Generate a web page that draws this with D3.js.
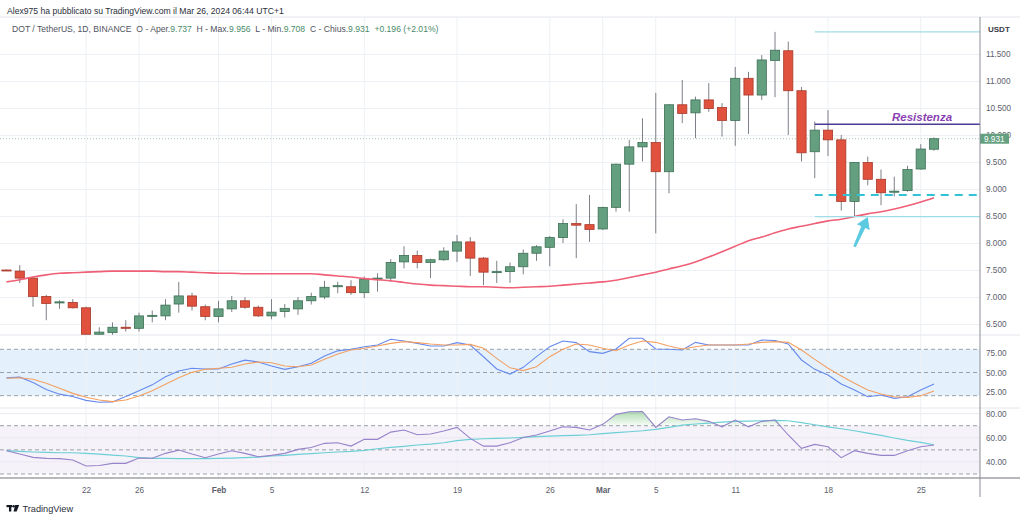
<!DOCTYPE html>
<html>
<head>
<meta charset="utf-8">
<script src="https://cdn.jsdelivr.net/npm/d3@7"></script>
<style>
  body { margin: 0; background: #fff; }
  svg { display: block; font-family: "Liberation Sans", Arial, sans-serif; }
</style>
</head>
<body>
<svg id="chart" width="1024" height="520"></svg>
<script>
// daily candles DOT/USDT, Jan 16 -> Mar 26 2024
const firstDay = Date.UTC(2024, 0, 16);
const lastDay = Date.UTC(2024, 2, 26);

const opens = [7.50, 7.48, 7.35, 7.01, 6.89, 6.90, 6.80, 6.31, 6.34, 6.44,
  6.42, 6.65, 6.65, 6.87, 7.02, 6.82, 6.64, 6.78, 6.93, 6.81,
  6.65, 6.73, 6.78, 6.93, 7.00, 7.19, 7.19, 7.08, 7.33, 7.35,
  7.65, 7.77, 7.64, 7.69, 7.85, 8.02, 7.72, 7.46, 7.47, 7.56,
  7.81, 7.92, 8.10, 8.36, 8.34, 8.26, 8.66, 9.46, 9.78, 9.86,
  9.32, 10.56, 10.41, 10.65, 10.51, 10.27, 11.05, 10.74, 11.38, 11.56,
  10.82, 9.69, 10.09, 9.91, 8.77, 9.49, 9.18, 8.94, 8.97, 9.37,
  9.737];
const highs = [7.51, 7.59, 7.38, 7.04, 6.94, 6.96, 6.82, 6.44, 6.53, 6.57,
  6.71, 6.75, 6.96, 7.28, 7.08, 6.86, 6.93, 7.02, 7.00, 6.84,
  6.96, 6.87, 7.00, 7.08, 7.30, 7.28, 7.31, 7.38, 7.44, 7.70,
  7.94, 7.86, 7.71, 7.92, 8.15, 8.11, 7.74, 7.67, 7.64, 7.88,
  7.96, 8.13, 8.44, 8.72, 8.89, 8.67, 9.47, 9.91, 10.31, 10.78,
  10.57, 11.02, 10.71, 10.96, 10.59, 11.26, 11.17, 11.48, 11.91, 11.73,
  10.89, 10.25, 10.46, 10.00, 9.50, 9.60, 9.36, 9.23, 9.43, 9.83,
  9.956];
const lows = [7.49, 7.26, 6.82, 6.57, 6.78, 6.79, 6.30, 6.30, 6.30, 6.36,
  6.36, 6.53, 6.57, 6.71, 6.75, 6.57, 6.53, 6.72, 6.78, 6.63,
  6.59, 6.62, 6.67, 6.86, 6.96, 7.07, 7.04, 6.98, 7.10, 7.28,
  7.53, 7.53, 7.35, 7.67, 7.65, 7.39, 7.22, 7.26, 7.26, 7.42,
  7.67, 7.57, 8.00, 7.72, 8.02, 8.24, 8.58, 8.58, 9.51, 8.18,
  8.92, 10.22, 9.94, 10.43, 9.97, 9.80, 10.02, 10.65, 10.70, 10.00,
  9.51, 9.20, 9.61, 8.60, 8.49, 9.07, 8.70, 8.86, 8.95, 9.36,
  9.708];
const closes = [7.49, 7.35, 7.01, 6.88, 6.91, 6.80, 6.31, 6.35, 6.44, 6.42,
  6.65, 6.66, 6.85, 7.02, 6.83, 6.64, 6.78, 6.93, 6.81, 6.65,
  6.72, 6.79, 6.93, 7.01, 7.18, 7.21, 7.08, 7.33, 7.35, 7.64,
  7.77, 7.64, 7.69, 7.85, 8.02, 7.72, 7.46, 7.47, 7.56, 7.81,
  7.93, 8.10, 8.36, 8.33, 8.25, 8.66, 9.46, 9.78, 9.86, 9.32,
  10.56, 10.40, 10.65, 10.49, 10.27, 11.05, 10.74, 11.39, 11.57, 10.82,
  9.67, 10.09, 9.91, 8.77, 9.49, 9.18, 8.93, 8.96, 9.36, 9.74,
  9.931];

// moving average on price
const maValues = [7.28, 7.32, 7.37, 7.41, 7.44, 7.45, 7.46, 7.47, 7.48, 7.48,
  7.48, 7.48, 7.47, 7.47, 7.46, 7.45, 7.44, 7.44, 7.43, 7.43,
  7.43, 7.43, 7.43, 7.43, 7.41, 7.39, 7.37, 7.34, 7.32, 7.30,
  7.27, 7.24, 7.22, 7.21, 7.20, 7.19, 7.19, 7.18, 7.17, 7.18,
  7.19, 7.20, 7.22, 7.24, 7.26, 7.28, 7.31, 7.36, 7.41, 7.46,
  7.52, 7.58, 7.65, 7.74, 7.84, 7.94, 8.04, 8.11, 8.19, 8.26,
  8.31, 8.36, 8.41, 8.44, 8.49, 8.54, 8.58, 8.63, 8.69, 8.76,
  8.84];

// stoch RSI
const stochK = [43, 44, 37, 28, 22, 19, 14, 11.5, 12, 19,
  26.5, 34, 44.6, 52, 55.4, 54.5, 54.5, 61, 66, 63.6,
  58.4, 54, 57.5, 62, 71.3, 78, 80, 83.4, 85.6, 93,
  90.7, 87.7, 84.3, 84.3, 88.6, 85.6, 70.4, 54.5, 48, 56.7,
  70.5, 83.4, 90.7, 88.6, 77, 74.8, 80.4, 94.2, 94.2, 80.4,
  80, 79.1, 89, 85.6, 85.6, 85.6, 85.6, 92, 91.3, 86.9,
  66.2, 54.1, 46.8, 35.1, 27.4, 18.7, 20.9, 16.6, 18.7, 27.4,
  35.1];
const stochD = [42.5, 43.3, 41.2, 36, 29.5, 23, 17.9, 14.4, 12.3, 14.4,
  19.6, 26.5, 34.7, 43.3, 50.2, 54.1, 55.4, 56.7, 61, 63.6,
  62.7, 58.4, 57.5, 59.7, 67, 73.9, 79.1, 81.3, 84.3, 87.7,
  89.9, 88.6, 86.9, 85.6, 85.6, 86.4, 81.3, 68.3, 56, 52.4,
  57.5, 70.5, 80, 86.9, 85.6, 81.3, 78.2, 85.6, 90.7, 89,
  84.3, 80.4, 83.4, 85.6, 85.6, 85.6, 86.9, 89, 89.9, 89,
  79.1, 67, 55.4, 45.5, 36, 27.4, 22.2, 18.7, 17.9, 20,
  26.1];

// RSI and its average
const rsiValues = [49.3, 46.5, 43.8, 42.9, 42.7, 41.6, 36.6, 37.1, 38.8, 38.8,
  43.2, 43, 47.1, 49.8, 46.5, 43.5, 46.5, 49.3, 47.1, 44.3,
  45.4, 47.1, 50.4, 52, 55.4, 55.9, 53.1, 58.7, 58.7, 64.7,
  66.4, 62.5, 63.1, 65.6, 68.6, 59.5, 53.1, 53.1, 55.9, 60.3,
  62.3, 65.6, 69.1, 68.6, 66.4, 71.1, 79.4, 81.6, 81.8, 68.6,
  77.4, 74.7, 75.8, 73.6, 69.1, 74.7, 69.1, 73.6, 74.7, 62.3,
  51.2, 54.5, 52.6, 43.5, 49.3, 47.1, 45.4, 45.4, 49.3, 52.6,
  54];
const rsiMa = [49.3, 48.7, 48.2, 47.9, 47.6, 47.6, 47.1, 46.5, 45.7, 44.9,
  43.5, 43, 43, 42.7, 42.7, 42.7, 43, 43.2, 43.5, 44,
  44.9, 45.4, 46.2, 46.8, 47.6, 48.2, 48.7, 49.6, 50.9, 52,
  52.9, 54, 54.8, 55.9, 57.6, 58.7, 59.2, 59.5, 59.8, 60.3,
  60.9, 61.4, 61.7, 62, 62.5, 63.4, 64.2, 65, 65.8, 67,
  68.6, 70.5, 71.4, 72.2, 73, 73.6, 73.8, 74.1, 74.4, 74.1,
  72.5, 70.8, 69.1, 67.5, 65.8, 63.9, 62, 59.8, 57.8, 56.2,
  54.2];

const timeTicks = ["2024-01-22", "2024-01-26", "2024-02-01", "2024-02-05", "2024-02-12", "2024-02-19",
  "2024-02-26", "2024-03-01", "2024-03-05", "2024-03-11", "2024-03-18", "2024-03-25"];
const timeTickLabels = ["22", "26", "Feb", "5", "12", "19", "26", "Mar", "5", "11", "18", "25"];
const priceTicks = [6.5, 7, 7.5, 8, 8.5, 9, 9.5, 10, 10.5, 11, 11.5];
const stochTicks = [25, 50, 75];
const stochBands = [80, 50, 20];
const rsiTicks = [40, 60, 80];
const rsiBands = [70, 50, 30];

// drawings
const drawStart = "2024-03-17";
const topLevel = 11.91;
const resistLevel = 10.20;
const dashLevel = 8.89;
const supportLevel = 8.49;
const arrowFrom = { date: "2024-03-20", price: 7.93 };
const arrowTo = { date: "2024-03-21", price: 8.48 };

const lastPrice = 9.931;

// ---------------------------------------------------------------
const svg = d3.select("#chart");
const W = 1024;
const axisX = 980;
const paneTop = 17, mainBottom = 335, stochBottom = 408, plotBottom = 478;

const upFill = "#649f80", upLine = "#3d6f55";
const downFill = "#e0513e", downLine = "#a8392b";
const wickColor = "#7d8086";

const parseDay = d3.utcParse("%Y-%m-%d");
const dates = d3.utcDay.range(new Date(firstDay), new Date(lastDay + 864e5));

const x = d3.scaleUtc().domain([new Date(firstDay), new Date(lastDay)]).range([6.5, 934]);
const yPrice = d3.scaleLinear().domain([6.5, 11.5]).range([324, 54]);
const yStoch = d3.scaleLinear().domain([20, 80]).range([395.7, 349.3]);
const yRsi = d3.scaleLinear().domain([30, 70]).range([474, 425.7]);

svg.append("rect").attr("width", W).attr("height", 520).attr("fill", "#fff");

const defs = svg.append("defs");
defs.append("clipPath").attr("id", "clipMain")
  .append("rect").attr("x", 0).attr("y", paneTop).attr("width", axisX).attr("height", mainBottom - paneTop);
const grad = defs.append("linearGradient").attr("id", "obFill")
  .attr("gradientUnits", "userSpaceOnUse")
  .attr("x1", 0).attr("x2", 0).attr("y1", yRsi(82)).attr("y2", yRsi(70));
grad.append("stop").attr("offset", 0).attr("stop-color", "#4caf50").attr("stop-opacity", 0.45);
grad.append("stop").attr("offset", 1).attr("stop-color", "#4caf50").attr("stop-opacity", 0.04);

// indicator backgrounds
svg.append("rect").attr("x", 0).attr("width", axisX)
  .attr("y", yStoch(80)).attr("height", yStoch(20) - yStoch(80))
  .attr("fill", "#e4f1fd");
svg.append("rect").attr("x", 0).attr("width", axisX)
  .attr("y", yRsi(70)).attr("height", yRsi(30) - yRsi(70))
  .attr("fill", "#f6f2fa");

// grid
const tickDates = timeTicks.map(parseDay);
svg.append("g").selectAll("line").data(tickDates).join("line")
  .attr("x1", d => x(d)).attr("x2", d => x(d))
  .attr("y1", paneTop).attr("y2", plotBottom)
  .attr("stroke", "#edf0f4");

svg.append("g")
  .attr("transform", `translate(${axisX},0)`)
  .call(d3.axisLeft(yPrice).tickValues(priceTicks).tickSize(axisX).tickFormat(""))
  .call(g => g.select(".domain").remove())
  .call(g => g.selectAll("line").attr("stroke", "#edf0f4"));

svg.append("g").selectAll("line").data(rsiTicks).join("line")
  .attr("x1", 0).attr("x2", axisX)
  .attr("y1", d => yRsi(d)).attr("y2", d => yRsi(d))
  .attr("stroke", "#ebe8f0");

// pane separators
svg.append("g").selectAll("line").data([paneTop, mainBottom, stochBottom]).join("line")
  .attr("x1", 0).attr("x2", 1020)
  .attr("y1", d => d).attr("y2", d => d)
  .attr("stroke", "#e3e6ec");

// band lines
svg.append("g").selectAll("line").data(stochBands).join("line")
  .attr("x1", 0).attr("x2", axisX)
  .attr("y1", d => yStoch(d)).attr("y2", d => yStoch(d))
  .attr("stroke", "#9aa0a8").attr("stroke-dasharray", "4,3");
svg.append("g").selectAll("line").data(rsiBands).join("line")
  .attr("x1", 0).attr("x2", axisX)
  .attr("y1", d => yRsi(d)).attr("y2", d => yRsi(d))
  .attr("stroke", "#9aa0a8").attr("stroke-dasharray", "4,3");

// ---------------- main pane ----------------
const main = svg.append("g").attr("clip-path", "url(#clipMain)");

// last price line
main.append("line")
  .attr("x1", 0).attr("x2", axisX)
  .attr("y1", yPrice(lastPrice)).attr("y2", yPrice(lastPrice))
  .attr("stroke", "#7fae95").attr("stroke-dasharray", "1,2").attr("opacity", 0.7);

const candles = dates.map((d, i) => ({ date: d, o: opens[i], h: highs[i], l: lows[i], c: closes[i] }));

main.append("g").selectAll("line").data(candles).join("line")
  .attr("x1", d => x(d.date)).attr("x2", d => x(d.date))
  .attr("y1", d => yPrice(d.h)).attr("y2", d => yPrice(d.l))
  .attr("stroke", wickColor);

main.append("g").selectAll("rect").data(candles).join("rect")
  .attr("x", d => x(d.date) - 4.6)
  .attr("width", 9.2)
  .attr("y", d => yPrice(Math.max(d.o, d.c)))
  .attr("height", d => Math.max(1, Math.abs(yPrice(d.o) - yPrice(d.c))))
  .attr("fill", d => d.c >= d.o ? upFill : downFill)
  .attr("stroke", d => d.c >= d.o ? upLine : downLine)
  .attr("stroke-width", 0.8);

main.append("path")
  .datum(maValues)
  .attr("fill", "none")
  .attr("stroke", "#ef5f76")
  .attr("stroke-width", 1.6)
  .attr("d", d3.line().x((d, i) => x(dates[i])).y(d => yPrice(d)).curve(d3.curveMonotoneX));

// drawings
const xs = x(parseDay(drawStart));
main.append("line").attr("x1", xs).attr("x2", axisX)
  .attr("y1", yPrice(topLevel)).attr("y2", yPrice(topLevel))
  .attr("stroke", "#9fdde6").attr("stroke-width", 1.2);
main.append("line").attr("x1", xs).attr("x2", axisX)
  .attr("y1", yPrice(resistLevel)).attr("y2", yPrice(resistLevel))
  .attr("stroke", "#4b3b94").attr("stroke-width", 1.5);
main.append("line").attr("x1", xs).attr("x2", axisX)
  .attr("y1", yPrice(dashLevel)).attr("y2", yPrice(dashLevel))
  .attr("stroke", "#33c1d6").attr("stroke-width", 2).attr("stroke-dasharray", "8,6");
main.append("line").attr("x1", xs).attr("x2", axisX)
  .attr("y1", yPrice(supportLevel)).attr("y2", yPrice(supportLevel))
  .attr("stroke", "#9fdde6").attr("stroke-width", 1.2);

main.append("text")
  .attr("x", 922).attr("y", yPrice(resistLevel) - 3)
  .attr("text-anchor", "middle")
  .attr("font-size", 11.5).attr("font-weight", "bold").attr("font-style", "italic")
  .attr("fill", "#8a3fb3")
  .text("Resistenza");

// arrow
const tail = [x(parseDay(arrowFrom.date)), yPrice(arrowFrom.price)];
const tip = [x(parseDay(arrowTo.date)), yPrice(arrowTo.price)];
const len = Math.hypot(tip[0] - tail[0], tip[1] - tail[1]);
const ux = (tip[0] - tail[0]) / len, uy = (tip[1] - tail[1]) / len;
const nx = -uy, ny = ux;
const headLen = 11, shaftW = 2.2, headW = 7;
const neck = [tip[0] - ux * headLen, tip[1] - uy * headLen];
const pt = (p, k) => [p[0] + nx * k, p[1] + ny * k];
const arrowPts = [pt(tail, shaftW * 0.6), pt(neck, shaftW), pt(neck, headW), tip,
  pt(neck, -headW), pt(neck, -shaftW), pt(tail, -shaftW * 0.6)];
main.append("path")
  .attr("d", "M" + arrowPts.map(p => p.join(",")).join("L") + "Z")
  .attr("fill", "#5ccbe2");

// ---------------- stoch RSI ----------------
const lineX = (d, i) => x(dates[i]);
svg.append("path").datum(stochK)
  .attr("fill", "none").attr("stroke", "#6689ec").attr("stroke-width", 1.1)
  .attr("d", d3.line().x(lineX).y(d => yStoch(d)));
svg.append("path").datum(stochD)
  .attr("fill", "none").attr("stroke", "#f3a062").attr("stroke-width", 1.1)
  .attr("d", d3.line().x(lineX).y(d => yStoch(d)));

// ---------------- RSI ----------------
svg.append("path").datum(rsiValues)
  .attr("fill", "url(#obFill)")
  .attr("d", d3.area().x(lineX).y0(yRsi(70)).y1(d => yRsi(Math.max(d, 70))));
svg.append("path").datum(rsiMa)
  .attr("fill", "none").attr("stroke", "#6bcfd6").attr("stroke-width", 1.2)
  .attr("d", d3.line().x(lineX).y(d => yRsi(d)));
svg.append("path").datum(rsiValues)
  .attr("fill", "none").attr("stroke", "#9683c9").attr("stroke-width", 1.1)
  .attr("d", d3.line().x(lineX).y(d => yRsi(d)));

// ---------------- axes ----------------
const axisText = g => g.selectAll("text")
  .attr("fill", "#5d606b").attr("font-size", 8.2)
  .attr("font-family", "'Liberation Sans', Arial, sans-serif");

svg.append("g")
  .attr("transform", `translate(${axisX},0)`)
  .call(d3.axisRight(yPrice).tickValues(priceTicks).tickSize(0).tickPadding(6).tickFormat(d3.format(".3f")))
  .call(g => g.select(".domain").remove())
  .call(axisText);
svg.append("g")
  .attr("transform", `translate(${axisX},0)`)
  .call(d3.axisRight(yStoch).tickValues(stochTicks).tickSize(0).tickPadding(6).tickFormat(d3.format(".2f")))
  .call(g => g.select(".domain").remove())
  .call(axisText);
svg.append("g")
  .attr("transform", `translate(${axisX},0)`)
  .call(d3.axisRight(yRsi).tickValues(rsiTicks).tickSize(0).tickPadding(6).tickFormat(d3.format(".2f")))
  .call(g => g.select(".domain").remove())
  .call(axisText);

svg.append("text").attr("x", 988).attr("y", 32)
  .attr("font-size", 8).attr("font-weight", "bold").attr("fill", "#3a3d46")
  .text("USDT");

// last price tag
const lp = svg.append("g").attr("transform", `translate(${axisX},${yPrice(lastPrice)})`);
lp.append("rect").attr("x", 0).attr("y", -5).attr("width", 29).attr("height", 10)
  .attr("fill", upFill);
lp.append("text").attr("x", 4).attr("y", 3)
  .attr("font-size", 8.2).attr("fill", "#fff").text(d3.format(".3f")(lastPrice));

// time axis
svg.append("g")
  .attr("transform", `translate(0,${plotBottom})`)
  .call(d3.axisBottom(x).tickValues(tickDates).tickSize(0).tickPadding(9)
    .tickFormat((d, i) => timeTickLabels[i]))
  .call(g => g.select(".domain").remove())
  .call(axisText)
  .call(g => g.selectAll("text")
    .attr("font-weight", (d, i) => isNaN(+timeTickLabels[i]) ? "bold" : "normal"));

svg.append("line").attr("x1", 0).attr("x2", 1020)
  .attr("y1", plotBottom).attr("y2", plotBottom)
  .attr("stroke", "#6f727a").attr("stroke-width", 1.2);
svg.append("line").attr("x1", axisX).attr("x2", axisX)
  .attr("y1", paneTop).attr("y2", 497)
  .attr("stroke", "#8a8d94");

// ---------------- header & legend ----------------
svg.append("text").attr("x", 7).attr("y", 14)
  .attr("font-size", 8.6).attr("fill", "#2a2e39")
  .text("Alex975 ha pubblicato su TradingView.com il Mar 26, 2024 06:44 UTC+1");

const legend = svg.append("text").attr("x", 12).attr("y", 31.5)
  .attr("font-size", 8.6).attr("fill", "#50535e").attr("xml:space", "preserve");
const legendParts = [
  ["DOT / TetherUS, 1D, BINANCE  ", "#50535e"],
  ["O - Aper.", "#50535e"], [d3.format(".3f")(opens[opens.length - 1]) + "  ", "#4a8a6a"],
  ["H - Max.", "#50535e"], [d3.format(".3f")(highs[highs.length - 1]) + "  ", "#4a8a6a"],
  ["L - Min.", "#50535e"], [d3.format(".3f")(lows[lows.length - 1]) + "  ", "#4a8a6a"],
  ["C - Chius.", "#50535e"], [d3.format(".3f")(lastPrice) + "  ", "#4a8a6a"],
  ["+0.196 (+2.01%)", "#4a8a6a"]
];
legend.selectAll("tspan").data(legendParts).join("tspan")
  .attr("fill", d => d[1]).text(d => d[0]);

// footer logo
const logo = svg.append("g").attr("fill", "#131722");
logo.append("rect").attr("x", 6.5).attr("y", 505).attr("width", 5.5).attr("height", 2.2);
logo.append("rect").attr("x", 9).attr("y", 505).attr("width", 2.3).attr("height", 6.5);
logo.append("circle").attr("cx", 13.6).attr("cy", 506.3).attr("r", 1.3);
logo.append("path").attr("d", "M15.2,505 L19.2,505 L16.6,511.5 L13.6,511.5 Z");
svg.append("text").attr("x", 22.5).attr("y", 512)
  .attr("font-size", 9.2).attr("fill", "#2a2e39").text("TradingView");
</script>
</body>
</html>
